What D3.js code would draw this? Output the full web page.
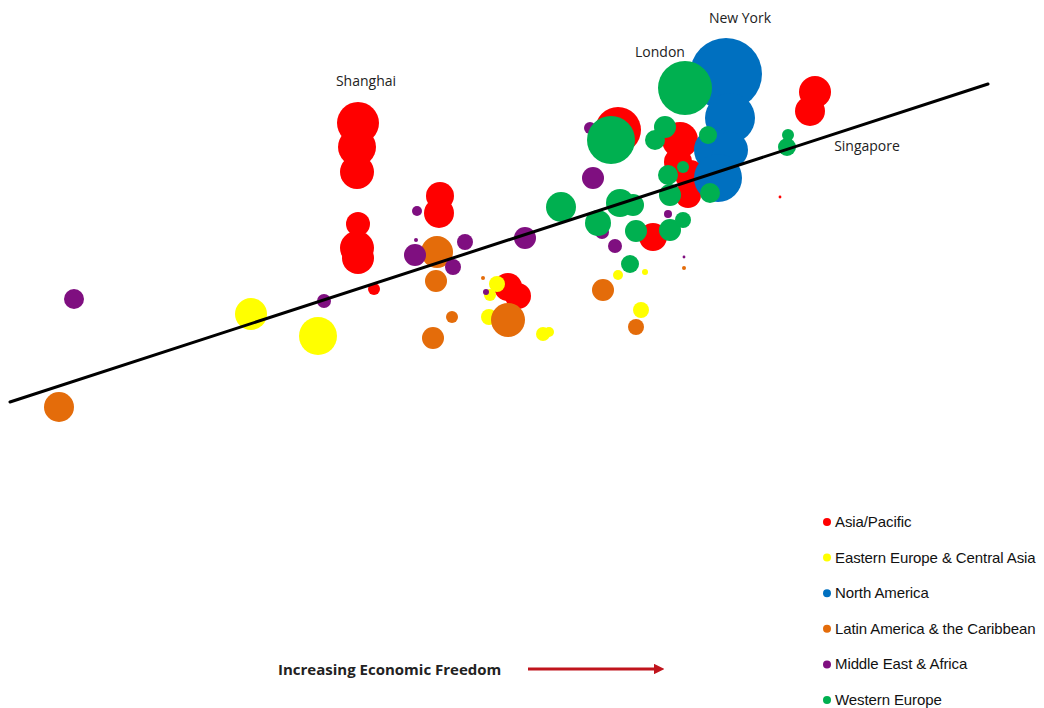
<!DOCTYPE html>
<html>
<head>
<meta charset="utf-8">
<script src="https://cdn.jsdelivr.net/npm/d3@7"></script>
<style>
  body { margin: 0; background: #fff; }
  svg { display: block; }
</style>
</head>
<body>
<div id="grafica"></div>
<script>
/*--- datos: [libertad economica, indice, PIB] ---*/
let regiones = ["Asia/Pacific", "Eastern Europe & Central Asia", "North America",
                "Latin America & the Caribbean", "Middle East & Africa", "Western Europe"];
let colores = ["#ff0000", "#ffff00", "#0070c0", "#e46c0a", "#7f0f80", "#00b050"];

let asia = [
  [35.8, 71.4, 441], [35.7, 66.6, 361], [35.7, 61.6, 289], [35.8, 51.2, 144],
  [35.7, 46.4, 289], [35.8, 44.4, 256], [37.4, 38.2, 36], [44.0, 56.8, 196],
  [43.9, 53.4, 225], [50.8, 38.6, 196], [51.8, 36.8, 169], [61.8, 70.0, 529],
  [65.3, 48.6, 196], [68.0, 68.0, 324], [67.8, 63.6, 196], [69.0, 61.0, 225],
  [68.8, 57.0, 169], [81.5, 77.6, 256], [81.0, 73.8, 225], [78.0, 56.6, 2]
];
let europaEste = [
  [25.1, 33.2, 256], [31.8, 28.8, 361], [49.7, 39.2, 64], [49.0, 37.0, 36],
  [48.9, 32.6, 64], [54.3, 29.2, 49], [54.9, 29.6, 25], [61.8, 41.0, 25],
  [64.5, 41.6, 9], [64.1, 34.0, 64]
];
let norteAmerica = [
  [72.6, 81.2, 1296], [73.0, 72.4, 625], [71.6, 66.0, 484], [73.0, 66.0, 324],
  [71.8, 60.4, 576]
];
let latam = [
  [5.9, 14.6, 225], [43.7, 45.6, 256], [43.6, 39.8, 121], [45.2, 32.6, 36],
  [43.3, 28.4, 121], [48.3, 40.4, 4], [50.8, 32.0, 289], [60.3, 38.0, 121],
  [63.6, 30.6, 64], [68.4, 42.4, 4]
];
let medioOriente = [
  [7.4, 36.2, 100], [32.4, 35.8, 49], [41.7, 53.8, 25], [41.6, 48.0, 4],
  [41.5, 45.0, 121], [46.5, 47.6, 64], [45.3, 42.6, 64], [48.6, 37.6, 9],
  [52.5, 48.4, 121], [59.3, 60.4, 121], [59.0, 70.4, 36], [60.2, 49.6, 49],
  [61.5, 46.8, 49], [66.8, 53.2, 16], [68.4, 44.6, 2]
];
let europaOeste = [
  [68.5, 78.4, 729], [61.1, 68.0, 576], [66.5, 70.6, 121], [65.5, 68.0, 100],
  [70.8, 69.0, 81], [68.3, 62.6, 36], [66.8, 61.0, 100], [67.0, 57.0, 121],
  [71.0, 57.4, 100], [56.1, 54.6, 225], [62.0, 55.4, 196], [63.3, 55.0, 121],
  [59.8, 51.4, 169], [63.6, 49.8, 121], [67.0, 50.0, 121], [68.3, 52.0, 64],
  [63.0, 43.2, 81], [78.8, 69.0, 36], [78.7, 66.6, 81]
];
let series = [asia, europaEste, norteAmerica, latam, medioOriente, europaOeste];
// orden de dibujo (los verdes encima)
let orden = [0, 1, 2, 3, 4, 5];

let tendencia = [[1.0, 15.6], [98.8, 79.2]];

let etiquetas = [
  { texto: "New York", x: 74.0, y: 92.4 },
  { texto: "London", x: 66.0, y: 85.6 },
  { texto: "Shanghai", x: 36.6, y: 79.8 },
  { texto: "Singapore", x: 86.7, y: 66.8 }
];

/*--- Variables tecnicas ---*/
let width = 1044;
let height = 708;

let x = d3.scaleLinear().domain([0, 104.4]).range([0, 1044]);
let y = d3.scaleLinear().domain([0, 96]).range([480, 0]);
let radio = d3.scaleSqrt().domain([0, 1296]).range([0, 36]);

let svg = d3.select("div#grafica").append("svg")
    .attr("width", width)
    .attr("height", height);

// burbujas
let g = svg.append("g");
orden.forEach(function (i) {
    g.append("g")
        .selectAll("circle")
        .data(series[i])
        .enter().append("circle")
        .attr("cx", d => x(d[0]))
        .attr("cy", d => y(d[1]))
        .attr("r", d => radio(d[2]))
        .attr("fill", colores[i]);
});

// linea de tendencia
svg.append("line")
    .attr("x1", x(tendencia[0][0]))
    .attr("y1", y(tendencia[0][1]))
    .attr("x2", x(tendencia[1][0]))
    .attr("y2", y(tendencia[1][1]))
    .attr("stroke", "#000")
    .attr("stroke-width", 3)
    .attr("stroke-linecap", "round");

// nombres de ciudades
svg.append("g")
    .selectAll("text")
    .data(etiquetas)
    .enter().append("text")
    .attr("x", d => x(d.x))
    .attr("y", d => y(d.y))
    .attr("dy", "0.35em")
    .attr("text-anchor", "middle")
    .style("font-family", "'Open Sans', sans-serif")
    .style("font-size", "14px")
    .style("fill", "#222")
    .text(d => d.texto);

/*--- leyenda ---*/
let leyenda = svg.append("g")
    .attr("transform", "translate(827,522)")
    .selectAll("g")
    .data(regiones)
    .enter().append("g")
    .attr("transform", (d, i) => "translate(0," + (i * 35.6) + ")");

leyenda.append("circle")
    .attr("r", 4)
    .attr("fill", (d, i) => colores[i]);

leyenda.append("text")
    .attr("x", 8)
    .attr("y", 5)
    .style("font-family", "'Liberation Sans', Arial, sans-serif")
    .style("font-size", "15px")
    .style("letter-spacing", "-0.1px")
    .style("fill", "#111")
    .text(d => d);

/*--- flecha de libertad economica ---*/
svg.append("defs").append("marker")
    .attr("id", "punta")
    .attr("viewBox", "0 0 10 10")
    .attr("refX", 2)
    .attr("refY", 5)
    .attr("markerWidth", 3.5)
    .attr("markerHeight", 3.5)
    .attr("orient", "auto")
    .append("path")
    .attr("d", "M0,0 L10,5 L0,10 Z")
    .attr("fill", "#c0141c");

svg.append("text")
    .attr("x", 278)
    .attr("y", 675)
    .style("font-family", "'Open Sans', sans-serif")
    .style("font-weight", "bold")
    .style("font-size", "15px")
    .style("fill", "#222")
    .text("Increasing Economic Freedom");

svg.append("line")
    .attr("x1", 528)
    .attr("y1", 669)
    .attr("x2", 656)
    .attr("y2", 669)
    .attr("stroke", "#c0141c")
    .attr("stroke-width", 3)
    .attr("marker-end", "url(#punta)");
</script>
</body>
</html>
